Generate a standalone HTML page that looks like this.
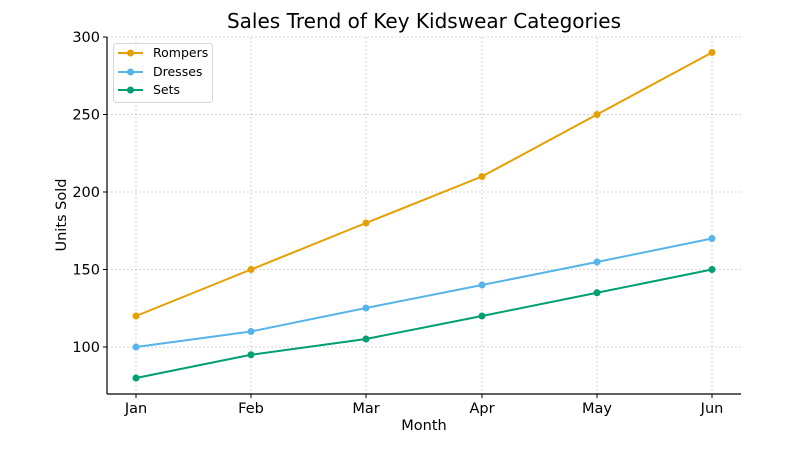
<!DOCTYPE html>
<html><head><style>body{margin:0;background:#fff}svg{display:block}text{font-family:"DejaVu Sans","Liberation Sans",sans-serif;fill:#000}</style></head>
<body>
<svg width="800" height="450" viewBox="0 0 800 450" xmlns="http://www.w3.org/2000/svg">
<rect width="800" height="450" fill="#fff"/>
<g stroke="#c8c8c8" stroke-width="0.8" stroke-dasharray="2,2">
<line x1="107" x2="741" y1="37" y2="37"/><line x1="107" x2="741" y1="114.5" y2="114.5"/><line x1="107" x2="741" y1="192" y2="192"/><line x1="107" x2="741" y1="269.5" y2="269.5"/><line x1="107" x2="741" y1="347" y2="347"/>
<line x1="136" x2="136" y1="37" y2="394"/><line x1="251" x2="251" y1="37" y2="394"/><line x1="366" x2="366" y1="37" y2="394"/><line x1="482" x2="482" y1="37" y2="394"/><line x1="597" x2="597" y1="37" y2="394"/><line x1="712" x2="712" y1="37" y2="394"/>
</g>
<g stroke="#000" stroke-width="1.2"><line x1="107" y1="37" x2="107" y2="394"/><line x1="107" y1="394" x2="741" y2="394"/></g>
<g stroke="#000" stroke-width="1">
<line x1="103" x2="107" y1="37" y2="37"/><line x1="103" x2="107" y1="114.5" y2="114.5"/><line x1="103" x2="107" y1="192" y2="192"/><line x1="103" x2="107" y1="269.5" y2="269.5"/><line x1="103" x2="107" y1="347" y2="347"/>
<line x1="136" x2="136" y1="394" y2="398"/><line x1="251" x2="251" y1="394" y2="398"/><line x1="366" x2="366" y1="394" y2="398"/><line x1="482" x2="482" y1="394" y2="398"/><line x1="597" x2="597" y1="394" y2="398"/><line x1="712" x2="712" y1="394" y2="398"/>
</g>
<g font-size="14.5" text-anchor="end">
<text x="100" y="42">300</text><text x="100" y="119.5">250</text><text x="100" y="197">200</text><text x="100" y="274.5">150</text><text x="100" y="352">100</text>
</g>
<g font-size="14.5" text-anchor="middle">
<text x="136" y="413">Jan</text><text x="251" y="413">Feb</text><text x="366" y="413">Mar</text><text x="482" y="413">Apr</text><text x="597" y="413">May</text><text x="712" y="413">Jun</text>
<text x="424" y="430">Month</text>
<text x="424" y="28" font-size="20">Sales Trend of Key Kidswear Categories</text>
<text transform="translate(66,215) rotate(-90)">Units Sold</text>
</g>
<g fill="none" stroke-width="2">
<polyline stroke="#E69F00" points="136,316 251,269.5 366,223 482,176.5 597,114.5 712,52.5"/>
<polyline stroke="#56B4E9" points="136,347 251,331.5 366,308 482,285 597,262 712,238.5"/>
<polyline stroke="#009E73" points="136,378 251,354.75 366,339 482,316 597,292.75 712,269.5"/>
</g>
<g fill="#E69F00"><circle cx="136" cy="316" r="3.5"/><circle cx="251" cy="269.5" r="3.5"/><circle cx="366" cy="223" r="3.5"/><circle cx="482" cy="176.5" r="3.5"/><circle cx="597" cy="114.5" r="3.5"/><circle cx="712" cy="52.5" r="3.5"/></g>
<g fill="#56B4E9"><circle cx="136" cy="347" r="3.5"/><circle cx="251" cy="331.5" r="3.5"/><circle cx="366" cy="308" r="3.5"/><circle cx="482" cy="285" r="3.5"/><circle cx="597" cy="262" r="3.5"/><circle cx="712" cy="238.5" r="3.5"/></g>
<g fill="#009E73"><circle cx="136" cy="378" r="3.5"/><circle cx="251" cy="354.75" r="3.5"/><circle cx="366" cy="339" r="3.5"/><circle cx="482" cy="316" r="3.5"/><circle cx="597" cy="292.75" r="3.5"/><circle cx="712" cy="269.5" r="3.5"/></g>
<rect x="113.5" y="43.5" width="99" height="59" rx="3" fill="#fff" fill-opacity="0.85" stroke="#d6d6d6"/>
<g stroke-width="2"><line x1="118" x2="143" y1="53" y2="53" stroke="#E69F00"/><line x1="118" x2="143" y1="72" y2="72" stroke="#56B4E9"/><line x1="118" x2="143" y1="90" y2="90" stroke="#009E73"/></g>
<circle cx="130.5" cy="53" r="3.5" fill="#E69F00"/><circle cx="130.5" cy="72" r="3.5" fill="#56B4E9"/><circle cx="130.5" cy="90" r="3.5" fill="#009E73"/>
<g font-size="12.5"><text x="153" y="57">Rompers</text><text x="153" y="76">Dresses</text><text x="153" y="94">Sets</text></g>
</svg>
</body></html>
